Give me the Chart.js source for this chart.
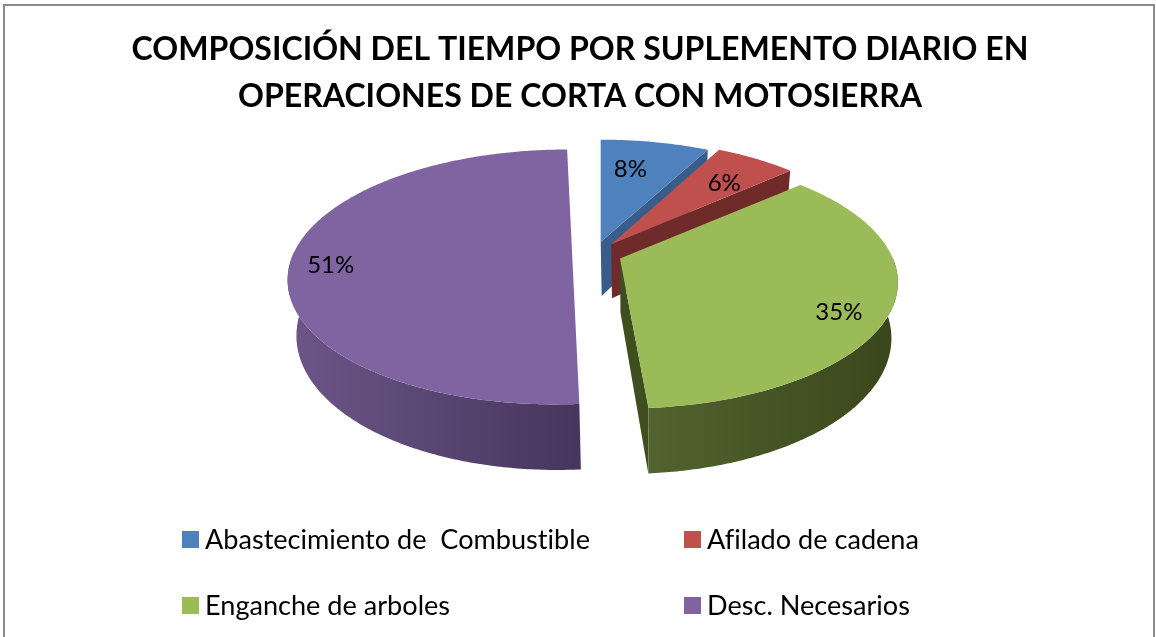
<!DOCTYPE html>
<html><head><meta charset="utf-8">
<script src="https://cdn.jsdelivr.net/npm/chart.js@4/dist/chart.umd.min.js"></script>
<style>html,body{margin:0;padding:0;background:#fff}#w{position:relative;width:1156px;height:637px;overflow:hidden}canvas{display:block}</style>
</head><body><div id="w"><canvas id="c" width="1156" height="637"></canvas></div>
<script>
const titleLines = ['COMPOSICIÓN DEL TIEMPO POR SUPLEMENTO DIARIO EN','OPERACIONES DE CORTA CON MOTOSIERRA'];
const categories = ['Abastecimiento de  Combustible','Afilado de cadena','Enganche de arboles','Desc. Necesarios'];
const shares = [7.7,5.7,35.4,51.2];
const topColors = ['#4f81bd','#c0504d','#9bbb59','#8064a2'];
const wallColors = ['#385d8a','#6f2b29','#3f4e1f','#4a3860'];
const outerStops = [['#385d8a','#385d8a'],['#6f2b29','#6f2b29'],['#52632f','#39461b'],['#6c5689','#47355c']];
const explode = [28,28,28,32];
const labelFrac = [0.70,0.72,0.84,0.85];
const labelNudge = [-3.6,2,6,-3];

// view of the tilted disc (one factor per slice where the original's perspective is uneven)
const V = {cx:594, cy:254, ry:123.5, p:0.176, depth:54, qy:0.44, vx:640, shrink:0.025,
           rx:[266,268,273,269], ryK:[0.975,1,1,1], shear:[0,0,-3,6]};
function pt(i,ax,ay,u,v,low){
  const d = 1 + V.p*v;
  let x = ax + V.rx[i]*u/d + V.shear[i]*v/d, y = ay - V.ry*V.ryK[i]*v/d;
  if(low){ x += (V.vx-x)*V.shrink; y += V.depth/d; }
  return [x,y];
}
function apex(el,off){
  const m=(el.startAngle+el.endAngle)/2;
  return [V.cx+off*Math.cos(m), V.cy+off*V.qy*Math.sin(m)];
}
function poly(ctx,pts,fill){
  ctx.beginPath(); pts.forEach((q,i)=>i?ctx.lineTo(q[0],q[1]):ctx.moveTo(q[0],q[1])); ctx.closePath();
  ctx.fillStyle=fill; ctx.fill();
}
const disc3d = {
  id:'disc3d',
  beforeDatasetsDraw(chart){
    const ctx=chart.ctx, meta=chart.getDatasetMeta(0), ds=chart.data.datasets[0];
    const sum=ds.data.reduce((a,b)=>a+b,0);
    ctx.save();
    ctx.strokeStyle='#8a8a8a'; ctx.lineWidth=2; ctx.strokeRect(4,5,1150,700);
    meta.data.forEach((el,i)=>{
      const [ax,ay]=apex(el,ds.offset[i]);
      const span=el.endAngle-el.startAngle;
      const n=Math.max(2,Math.ceil(span*90));
      const top=[],low=[],wt=[],wl=[];
      for(let k=0;k<=n;k++){
        const a=el.startAngle+span*k/n, u=Math.cos(a), v=-Math.sin(a);
        const p1=pt(i,ax,ay,u,v,false), p2=pt(i,ax,ay,u,v,true);
        top.push(p1); low.push(p2);
        if(v<0.02){wt.push(p1);wl.push(p2);}   // only the near rim shows
      }
      const A=pt(i,ax,ay,0,0,false), B=pt(i,ax,ay,0,0,true);
      if(i<3) poly(ctx,[A,top[n],low[n],B],wallColors[i]);
      if(wt.length>1){
        const xs=wt.concat(wl).map(q=>q[0]);
        const g=ctx.createLinearGradient(Math.min(...xs),0,Math.max(...xs),0);
        g.addColorStop(0,outerStops[i][0]); g.addColorStop(1,outerStops[i][1]);
        poly(ctx,wt.concat(wl.slice().reverse()),g);
      }
      // a half-disc keeps one straight cut edge, as in the original
      poly(ctx,span>=Math.PI-0.1?top:[A].concat(top),topColors[i]);
    });
    ctx.font='24px Lato, "Open Sans", sans-serif'; ctx.fillStyle='#000';
    ctx.textAlign='center'; ctx.textBaseline='middle';
    meta.data.forEach((el,i)=>{
      const [ax,ay]=apex(el,ds.offset[i]);
      const m=(el.startAngle+el.endAngle)/2+labelNudge[i]*Math.PI/180, f=labelFrac[i];
      const q=pt(i,ax,ay,f*Math.cos(m),-f*Math.sin(m),false);
      ctx.fillText(Math.round(ds.data[i]/sum*100)+'%',q[0],q[1]+1);
    });
    ctx.font='27.1px Lato, "Open Sans", sans-serif'; ctx.textAlign='left';
    ctx.textRendering='optimizeSpeed';
    chart.data.labels.forEach((t,i)=>{
      const col=i%2, row=i>>1;
      const bx=col?684:182, by=row?597:531;
      ctx.fillStyle=topColors[i]; ctx.fillRect(bx,by,17,17);
      ctx.fillStyle='#000'; ctx.fillText(t,bx+23,by+9);
    });
    ctx.restore();
    return false;
  }
};
new Chart(document.getElementById('c'),{
  type:'pie',
  data:{labels:categories,datasets:[{data:shares,backgroundColor:topColors,offset:explode,borderWidth:0}]},
  plugins:[disc3d],
  options:{
    responsive:false,animation:false,rotation:0,
    layout:{padding:{left:4}},
    plugins:{
      legend:{display:false},tooltip:{enabled:false},
      title:{display:true,text:titleLines,color:'#000',fullSize:false,
        font:{family:'Lato, "Open Sans", sans-serif',size:32.1,weight:'bold',lineHeight:1.44},padding:{top:27,bottom:10}}
    }
  }
});
</script></body></html>
